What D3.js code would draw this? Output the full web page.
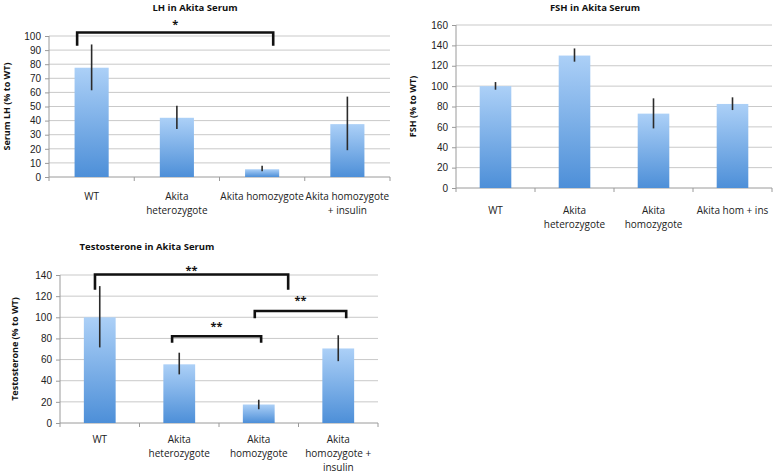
<!DOCTYPE html>
<html lang="en">
<head>
  <meta charset="UTF-8">
  <title>Akita Serum hormones</title>
  <script src="https://d3js.org/d3.v7.min.js"></script>
  <style>
    html, body { margin:0; background:#fff; }
    svg { display:block; font-family:"Open Sans", sans-serif; }
    .grid line { stroke:#c9c9c9; stroke-width:1px; }
    .axis line, .axis path { stroke:#9a9a9a; stroke-width:1px; fill:none; }
    .tick text { font-size:10px; fill:#222; }
    .cat { font-size:10px; fill:#222; }
    .title { font-size:9.5px; font-weight:700; fill:#111; }
    .ytitle { font-size:9px; font-weight:700; fill:#111; }
    .err { stroke:#2b2b2b; stroke-width:1.6px; }
    .bracket { fill:none; stroke:#111; stroke-width:2.6px; }
    .star { font-size:11px; font-weight:700; fill:#111; }
  </style>
</head>
<body>
<svg id="chart" width="778" height="475"></svg>
<script>
  // categories
  const lhCats   = [["WT"], ["Akita", "heterozygote"], ["Akita homozygote"], ["Akita homozygote", "+ insulin"]];
  const fshCats  = [["WT"], ["Akita", "heterozygote"], ["Akita", "homozygote"], ["Akita hom + ins"]];
  const testCats = [["WT"], ["Akita", "heterozygote"], ["Akita", "homozygote"], ["Akita", "homozygote +", "insulin"]];

  // means and error bar ends (% to WT)
  const lhMean  = [77.5, 42, 5.5, 37.5];
  const lhLow   = [61.5, 34, 4, 19];
  const lhHigh  = [94, 50.5, 8, 57];

  const fshMean = [100, 130, 73, 82.5];
  const fshLow  = [96.5, 124, 58.5, 76.5];
  const fshHigh = [104, 137, 88, 89];

  const testMean = [100, 55.5, 17.5, 70.5];
  const testLow  = [71.5, 46, 13, 58.5];
  const testHigh = [129.5, 66.5, 22, 83];

  // significance brackets: [from index, to index, bar value, leg end value, star value, label]
  const lhBrackets = [[-0.17, 2.13, 102.5, 93, 110, "*"]];
  const fshBrackets = [];
  const testBrackets = [
    [-0.06, 2.37, 140.5, 126, 147, "**"],
    [0.91, 2.03, 82, 76, 94, "**"],
    [1.95, 3.10, 106, 99, 118, "**"]
  ];

  const svg = d3.select("#chart");

  const defs = svg.append("defs");
  const grad = defs.append("linearGradient")
      .attr("id", "barGrad").attr("x1", 0).attr("y1", 0).attr("x2", 0).attr("y2", 1);
  grad.append("stop").attr("offset", "0%").attr("stop-color", "#acd0f7");
  grad.append("stop").attr("offset", "100%").attr("stop-color", "#4d8fd8");

  function drawChart(o) {
    const g = svg.append("g");
    const n = o.cats.length;
    const band = (o.right - o.left) / n;

    const y = d3.scaleLinear().domain([0, o.max]).range([o.bottom, o.top]);
    const x = d3.scaleLinear().domain([-0.5, n - 0.5]).range([o.left, o.right]);
    const ticks = d3.range(0, o.max + 1, o.step);

    // gridlines
    g.append("g").attr("class", "grid")
      .selectAll("line").data(ticks.slice(1)).join("line")
        .attr("x1", o.left).attr("x2", o.right)
        .attr("y1", d => y(d)).attr("y2", d => y(d));

    // y axis
    g.append("g").attr("class", "axis")
      .attr("transform", `translate(${o.left},0)`)
      .call(d3.axisLeft(y).tickValues(ticks).tickSize(4).tickPadding(4))
      .call(a => a.select(".domain").attr("d", `M0,${o.bottom}V${o.top}`));

    // x axis with ticks at category boundaries
    const xa = g.append("g").attr("class", "axis");
    xa.append("line").attr("x1", o.left).attr("x2", o.right)
      .attr("y1", o.bottom).attr("y2", o.bottom);
    xa.selectAll(".xt").data(d3.range(n + 1)).join("line")
      .attr("x1", i => x(i - 0.5)).attr("x2", i => x(i - 0.5))
      .attr("y1", o.bottom).attr("y2", o.bottom + 4);

    // bars
    const bw = band * 0.4;
    g.selectAll(".bar").data(o.mean).join("rect")
      .attr("x", (d, i) => x(i) - bw / 2)
      .attr("width", bw)
      .attr("y", d => y(d))
      .attr("height", d => o.bottom - y(d))
      .attr("fill", "url(#barGrad)");

    // error bars
    g.selectAll(".err").data(o.mean).join("line")
      .attr("class", "err")
      .attr("x1", (d, i) => x(i)).attr("x2", (d, i) => x(i))
      .attr("y1", (d, i) => y(o.low[i])).attr("y2", (d, i) => y(o.high[i]));

    // category labels
    o.cats.forEach((lines, i) => {
      const t = g.append("text").attr("class", "cat")
        .attr("text-anchor", "middle")
        .attr("x", x(i)).attr("y", o.bottom + o.labelOff);
      lines.forEach((s, k) => t.append("tspan")
        .attr("x", x(i)).attr("dy", k ? 14 : 0).text(s));
    });

    // titles
    g.append("text").attr("class", "title").attr("text-anchor", "middle")
      .attr("x", o.titleX).attr("y", o.titleY).text(o.title);
    g.append("text").attr("class", "ytitle").attr("text-anchor", "middle")
      .attr("transform", `translate(${o.ytX},${(o.top + o.bottom) / 2}) rotate(-90)`)
      .text(o.ytitle);

    // brackets
    o.brackets.forEach(b => {
      const x0 = x(b[0]), x1 = x(b[1]), yt = y(b[2]), yl = y(b[3]);
      g.append("path").attr("class", "bracket")
        .attr("d", `M${x0},${yl}V${yt}H${x1}V${yl}`);
      g.append("text").attr("class", "star").attr("text-anchor", "middle")
        .attr("x", (x0 + x1) / 2).attr("y", y(b[4]) + 6).text(b[5]);
    });
  }

  drawChart({
    cats: lhCats, mean: lhMean, low: lhLow, high: lhHigh, brackets: lhBrackets,
    max: 100, step: 10, left: 49, right: 390, top: 36, bottom: 177,
    labelOff: 23, title: "LH in Akita Serum", titleX: 195, titleY: 11,
    ytitle: "Serum LH (% to WT)", ytX: 10
  });

  drawChart({
    cats: fshCats, mean: fshMean, low: fshLow, high: fshHigh, brackets: fshBrackets,
    max: 160, step: 20, left: 456, right: 772, top: 25, bottom: 188,
    labelOff: 26, title: "FSH in Akita Serum", titleX: 595, titleY: 11,
    ytitle: "FSH (% to WT)", ytX: 416
  });

  drawChart({
    cats: testCats, mean: testMean, low: testLow, high: testHigh, brackets: testBrackets,
    max: 140, step: 20, left: 60, right: 378, top: 275, bottom: 423,
    labelOff: 20, title: "Testosterone in Akita Serum", titleX: 147, titleY: 250,
    ytitle: "Testosterone (% to WT)", ytX: 18
  });
</script>
</body>
</html>
